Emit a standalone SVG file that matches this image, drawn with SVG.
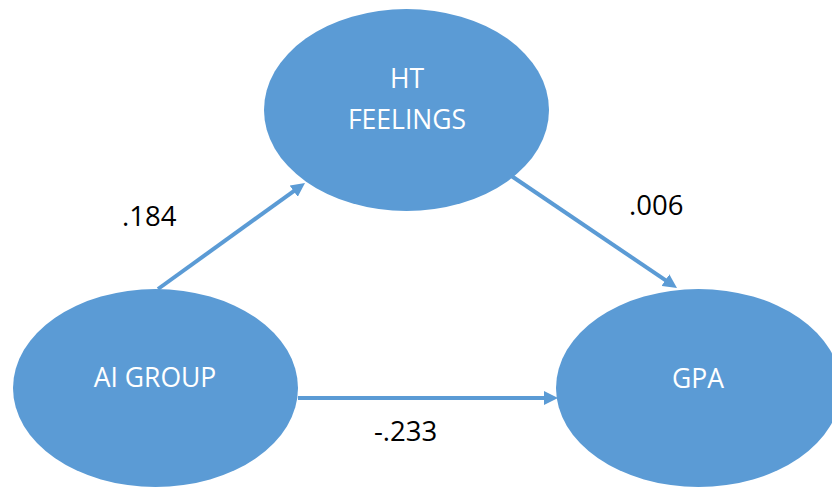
<svg xmlns="http://www.w3.org/2000/svg" width="832" height="488" viewBox="0 0 832 488">
  <style>
    .node { fill: #5B9BD5; }
    .nlabel { font-family: "Open Sans", "Liberation Sans", sans-serif; font-size: 26.5px; fill: #FFFFFF; text-anchor: middle; }
    .elabel { font-family: "Open Sans", "Liberation Sans", sans-serif; font-size: 27.5px; fill: #000000; }
    .edge { stroke: #5B9BD5; stroke-width: 4; fill: none; marker-end: url(#head); }
  </style>
  <defs>
    <marker id="head" markerUnits="userSpaceOnUse" markerWidth="15" markerHeight="14" refX="4" refY="7" orient="auto">
      <path d="M0,0 L14,7 L0,14 z" fill="#5B9BD5"/>
    </marker>
  </defs>
  <rect width="832" height="488" fill="#FFFFFF"/>

  <g id="connectors">
    <line class="edge" x1="158" y1="289" x2="296.9" y2="188.8"/>
    <line class="edge" x1="510" y1="175" x2="668.7" y2="282.4"/>
    <line class="edge" x1="298" y1="398" x2="548" y2="398"/>
  </g>

  <g id="ht-feelings">
    <ellipse class="node" cx="406.5" cy="110" rx="142.5" ry="101"/>
    <text class="nlabel" x="407" y="88">HT</text>
    <text class="nlabel" x="407" y="129">FEELINGS</text>
  </g>

  <g id="ai-group">
    <ellipse class="node" cx="155.5" cy="388" rx="142.5" ry="99"/>
    <text class="nlabel" x="155" y="387">AI GROUP</text>
  </g>

  <g id="gpa">
    <ellipse class="node" cx="698.5" cy="388" rx="142.5" ry="99"/>
    <text class="nlabel" x="698" y="388">GPA</text>
  </g>

  <g id="edge-labels">
    <text class="elabel" x="122" y="226">.184</text>
    <text class="elabel" x="629" y="215">.006</text>
    <text class="elabel" x="374" y="441">-.233</text>
  </g>
</svg>
